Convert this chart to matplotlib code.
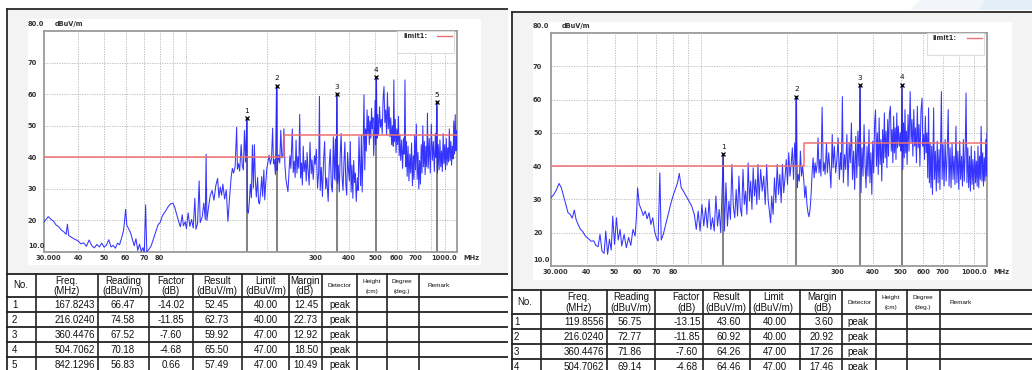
import matplotlib
matplotlib.use('Agg')
import matplotlib.pyplot as plt
from matplotlib.patches import Rectangle, Polygon

W, H = 1032, 370

# ---- scan 1 (left) : freq [MHz] / level [dBuV/m]
FREQ_A = [30, 30.5, 31.1, 31.8, 32.5, 33.2, 34, 34.8, 35.5, 36.2, 36.6, 37, 38, 39, 40,
          41, 42, 43, 44, 45, 46, 47, 48, 49, 50, 51, 52, 53, 54, 55, 56, 57, 58, 59, 60,
          60.6, 61.5, 62.5, 63.5, 64.5, 65.5, 66.5, 67.5, 68.5, 69.5, 70.3, 71.1, 71.8, 73,
          74.5, 76, 77.5, 79, 80.5, 82, 84, 86, 88, 89.7, 91, 92.5, 94, 95.5, 97, 98, 99.5,
          100.5, 102, 103.5, 105, 106.5, 108, 109, 110.5, 112, 113, 115, 116.5, 118, 118.8,
          119.6, 121, 123, 125, 127, 129, 131, 132.5, 134, 135.5, 137, 139, 141, 143, 145,
          147, 148.5, 150, 152, 154, 155, 156.5, 158, 160, 161.5, 163, 164.5, 166, 167.82,
          168.6, 170, 171.5, 173, 174.5, 176, 177.5, 179, 180.5, 182, 184, 185.5, 187, 189,
          190.5, 192, 194, 195.5, 197, 199, 201, 203, 205, 207, 209, 210.5, 212, 214, 216.02,
          217, 218.5, 220, 222, 224, 226, 228, 230, 232, 234, 236, 238, 240, 242, 244, 247,
          249, 251, 253, 255, 257, 259, 261, 263, 265, 267, 269, 271, 273, 276, 278, 280,
          282, 285, 287, 290, 292, 295, 298, 300, 303, 306, 309, 311, 313, 316, 319, 322,
          325, 328, 331, 335, 338, 341, 344, 347, 350, 353, 356, 358, 360.45, 362.5, 365,
          368, 371, 374, 377, 380, 383, 386, 389, 392, 395, 398, 401, 404, 407, 410, 413,
          416, 419, 422, 425, 429, 432, 435, 438, 441, 444, 447, 450, 454, 457, 460, 463,
          466, 469, 472, 475, 478, 481, 484, 487, 490, 493, 496, 499, 501, 504.71, 507, 510,
          514, 518, 522, 526, 530, 534, 538, 542, 546, 550, 554, 558, 562, 566, 570, 574,
          578, 582, 585, 588, 592, 596, 600, 604, 608, 612, 616, 620, 625, 630, 635, 639,
          643, 647, 651, 655, 660, 665, 670, 675, 680, 685, 690, 694, 698, 703, 708, 713,
          718, 723, 728, 733, 738, 743, 748, 753, 758, 763, 768, 773, 778, 783, 790, 797,
          804, 811, 818, 825, 832, 837, 842.13, 847, 853, 859, 865, 871, 877, 883, 889, 895,
          901, 907, 913, 919, 925, 931, 937, 943, 949, 955, 961, 967, 973, 979, 985, 991,
          996, 1000]
LEVEL_A = [19.5, 20.3, 21.2, 20.4, 19.8, 18.6, 18.0, 16.9, 16.4, 15.6, 18.8, 15.2, 14.6, 14.0, 13.6,
           12.6, 12.9, 11.8, 13.8, 12.0, 11.3, 12.4, 11.6, 12.8, 11.5, 12.2, 13.9, 11.6, 12.1, 11.2, 12.8, 12.3, 14.5, 17.0, 23.5,
           18.5, 17.4, 16.2, 14.1, 12.0, 14.2, 10.5, 12.5, 10.2, 11.4, 9.6, 24.9, 10.1, 10.8,
           11.9, 14.2, 16.5, 18.6, 19.4, 21.5, 22.8, 24.3, 25.3, 25.4, 24.2, 22.0, 19.8, 18.0, 21.8, 18.3, 19.6,
           17.4, 22.4, 18.1, 20.3, 17.6, 27.0, 17.2, 19.0, 32.5, 19.3, 21.2, 25.5, 20.3, 41.0,
           20.0, 23.5, 27.8, 29.5, 26.4, 31.0, 33.3, 27.2, 30.6, 28.0, 31.5, 26.8, 29.7, 19.7, 27.2,
           33.8, 36.5, 35.0, 37.0, 49.5, 36.2, 38.0, 35.6, 44.0, 37.4, 36.0, 48.5, 38.5, 52.45,
           23.0, 22.3, 26.0, 31.5, 27.2, 43.9, 30.2, 44.0, 32.8, 27.4, 33.6, 25.8, 25.2, 29.5,
           33.9, 27.6, 36.0, 26.5, 31.5, 36.5, 38.6, 40.7, 37.8, 39.5, 49.2, 38.0, 39.3, 34.5, 62.73,
           35.8, 38.5, 40.7, 38.2, 48.6, 39.8, 40.5, 49.0, 37.5, 33.0, 31.0, 29.1, 35.0, 40.5, 36.5, 49.0,
           35.2, 38.8, 33.6, 45.5, 35.0, 40.2, 36.5, 53.6, 33.4, 38.2, 31.2, 43.5, 35.4, 39.0, 32.4, 41.5,
           36.6, 31.2, 44.8, 34.8, 39.2, 33.0, 40.5, 37.8, 42.5, 30.2, 35.5, 59.3, 29.5, 36.8, 27.6, 38.6,
           45.0, 30.0, 33.5, 26.0, 37.5, 42.5, 31.0, 29.0, 46.5, 33.0, 45.8, 32.5, 59.92, 31.8, 37.5,
           29.0, 41.0, 47.5, 33.5, 29.5, 38.5, 44.8, 31.5, 28.0, 41.5, 36.0, 32.5, 45.0, 29.0, 37.5, 27.0,
           39.0, 32.0, 35.0, 26.0, 33.5, 29.5, 46.5, 37.5, 31.0, 47.0, 29.0, 40.0, 59.8, 36.0, 49.0, 42.0,
           55.0, 47.5, 53.0, 44.0, 51.5, 46.0, 55.5, 49.0, 52.5, 40.5, 48.0, 58.0, 44.0, 65.5, 46.0, 53.5,
           47.0, 56.0, 49.5, 52.0, 47.5, 58.5, 62.4, 51.0, 55.0, 47.0, 60.5, 49.0, 56.0, 46.5, 52.5, 44.0,
           50.0, 43.5, 64.5, 45.0, 52.0, 41.5, 49.0, 44.0, 53.0, 40.5, 47.0, 39.0, 45.5, 36.5, 46.0, 41.0,
           64.5, 37.0, 45.0, 34.0, 43.5, 32.5, 41.0, 35.0, 44.5, 31.0, 40.5, 33.0, 47.0, 36.0, 50.5, 33.0,
           41.5, 30.0, 39.0, 31.5, 44.0, 35.0, 50.0, 37.0, 45.0, 34.5, 43.5, 37.0, 54.0, 36.5, 46.0, 35.0,
           50.5, 39.0, 45.0, 35.5, 47.5, 40.0, 57.49, 35.0, 44.0, 36.0, 45.5, 37.0, 42.0, 35.5, 47.5, 38.0,
           44.0, 36.0, 46.0, 37.5, 43.0, 38.5, 49.0, 39.0, 45.0, 37.5, 43.5, 39.5, 51.5, 41.0, 53.5, 42.0,
           48.5, 46.5]

# ---- scan 2 (right)
FREQ_B = [30, 30.7, 31.3, 32, 32.6, 33.2, 33.8, 34.4, 35, 35.6, 36.2, 36.7, 37.3, 38, 38.7, 39.4,
          40, 40.8, 41.5, 42.3, 43, 43.8, 44.5, 45.2, 46, 46.6, 47.3, 48, 48.7, 49.3, 50, 50.8,
          51.5, 52.3, 53, 54, 55, 56, 57, 58, 59, 59.6, 60.2, 61, 62, 63, 64, 65, 66, 67, 68, 69,
          70, 71, 72, 72.8, 74, 75.5, 77, 78.5, 80, 81.5, 83, 84.2, 85.5, 87, 89, 91, 93, 95,
          96.5, 98, 99.5, 101, 102.5, 104, 105.5, 107, 108.5, 110, 111.5, 113, 114.5, 116, 117.5,
          119.86, 121, 122.5, 124, 125.5, 127, 128.5, 130, 131.5, 133, 134.5, 136, 137.5, 139,
          140.5, 142, 143.5, 145, 146.5, 148, 149.5, 151, 152.5, 154, 155.5, 157, 158.5, 160,
          162, 164, 166, 168, 170, 172, 174, 175.5, 177, 179, 181, 183, 185, 187, 189, 191, 193,
          195, 197, 199, 201, 203, 205, 207, 209, 211, 213, 215, 216.02, 217.5, 219, 221, 223,
          225, 227, 229, 231, 233, 235, 237, 239, 241, 243, 245, 247, 249, 251, 253, 255, 257,
          259, 261, 263, 265.5, 268, 270, 272, 275, 277, 280, 282, 285, 288, 290, 293, 296, 299,
          302, 305, 308, 310, 312.5, 315, 318, 321, 324, 327, 330, 333, 336, 339, 342, 345, 348,
          351, 354, 357, 360.45, 363, 366, 369, 372, 375, 378, 381, 384, 387, 390, 393, 396, 399,
          402, 405, 408, 411, 414, 417, 420, 423, 426, 429, 432, 435, 438, 441, 444, 447, 450,
          453, 456, 460, 463, 466, 469, 472, 475, 478, 481, 484, 487, 490, 494, 498, 501, 504.71,
          508, 511, 514, 517, 520, 523, 526, 530, 534, 539, 543, 547, 551, 555, 559, 563, 567,
          571, 575, 579, 583, 588, 593, 597, 601, 605, 609, 613, 617, 621, 625, 629, 633, 637,
          641, 645, 651, 655, 660, 665, 670, 675, 680, 685, 693, 697, 702, 708, 714, 720, 726,
          732, 737, 743, 749, 755, 761, 767, 773, 779, 785, 791, 797, 803, 809, 815, 821, 827,
          833, 839, 845, 851, 857, 863, 869, 875, 881, 887, 893, 899, 906, 912, 918, 924, 930,
          936, 942, 948, 954, 960, 966, 972, 978, 984, 990, 995, 1000]
LEVEL_B = [30.5, 31.5, 32.8, 34.8, 33.5, 31.0, 28.5, 26.0, 25.5, 24.4, 26.8, 24.0, 22.5, 21.0, 20.4, 19.2,
           18.6, 18.0, 17.4, 17.6, 16.2, 15.8, 19.5, 14.5, 13.8, 20.5, 13.5, 18.0, 14.8, 25.0, 16.5, 24.5,
           17.8, 21.0, 16.0, 19.5, 15.5, 18.6, 16.2, 21.0, 19.0, 24.5, 33.5, 28.5, 27.0, 25.2, 26.5, 24.2, 26.0, 22.5, 24.5, 20.5,
           18.5, 17.5, 38.0, 17.8, 19.5, 22.5, 25.5, 28.5, 31.0, 33.0, 35.0, 37.8, 33.5, 32.5, 31.0, 29.5, 28.0, 25.5,
           21.0, 26.5, 20.5, 28.5, 22.0, 27.5, 21.5, 30.0, 21.0, 24.5, 20.5, 31.0, 22.0, 27.0, 20.0,
           43.6, 20.5, 35.0, 22.0, 29.5, 24.0, 40.5, 28.0, 24.5, 33.0, 25.0, 37.0, 27.5, 25.0,
           39.0, 28.5, 32.5, 25.5, 41.0, 29.5, 35.5, 27.0, 39.5, 31.0, 36.0, 28.5, 40.5, 30.0,
           39.0, 32.5, 37.0, 28.5, 40.5, 30.0, 26.0, 23.0, 31.0, 25.5, 36.5, 29.0, 40.5, 31.5, 37.5, 29.0, 40.5,
           32.0, 36.5, 42.0, 34.5, 44.0, 37.0, 40.5, 45.5, 36.0, 47.0, 40.0, 60.92, 33.5, 37.5, 35.5, 44.5,
           37.0, 40.0, 36.0, 30.5, 34.0, 28.5, 26.0, 24.8, 27.0, 31.5, 38.0, 42.5, 36.5, 41.0, 38.0, 40.5, 48.5,
           38.0, 42.0, 37.0, 57.7, 38.5, 41.0, 37.5, 47.0, 38.0, 44.0, 40.0, 33.5, 49.5, 39.5, 46.0, 38.0, 42.0,
           48.5, 36.0, 44.0, 39.0, 60.9, 35.0, 43.5, 39.0, 49.5, 34.0, 47.0, 41.0, 53.0, 36.0, 44.5, 33.0, 49.0,
           36.5, 50.5, 40.0, 64.26, 32.0, 45.5, 37.0, 52.5, 40.5, 33.5, 46.0, 37.0, 51.0, 35.0, 44.0, 31.5, 47.5,
           38.0, 53.0, 56.9, 40.0, 50.0, 37.5, 54.5, 40.5, 48.0, 35.5, 51.0, 41.0, 56.0, 42.5, 50.5, 39.5, 54.0,
           43.0, 55.7, 58.0, 44.5, 51.0, 41.0, 55.0, 44.0, 51.5, 42.0, 56.0, 45.5, 52.0, 46.0, 50.0, 44.5, 64.46,
           39.0, 53.0, 42.5, 57.0, 44.0, 50.5, 40.5, 55.5, 44.5, 62.4, 47.0, 54.0, 43.0, 57.0, 46.0, 51.5, 41.0,
           58.0, 45.5, 52.5, 40.0, 56.5, 60.4, 46.0, 49.5, 42.0, 55.0, 44.0, 50.0, 36.5, 57.5, 35.0, 47.0, 33.5,
           46.0, 31.5, 57.5, 36.0, 44.5, 32.5, 47.5, 35.0, 45.0, 33.0, 62.4, 36.0, 46.5, 34.0, 48.0, 35.5, 44.0,
           57.0, 34.0, 45.5, 33.5, 47.0, 36.0, 43.0, 34.5, 52.0, 35.0, 44.5, 33.0, 47.5, 36.0, 43.0, 34.0, 48.0,
           35.5, 44.0, 62.0, 35.0, 45.5, 33.5, 43.0, 32.5, 46.0, 34.5, 42.0, 33.0, 44.5, 35.0, 41.5, 34.0, 46.0,
           33.5, 43.0, 36.0, 52.0, 35.5, 44.0, 34.0, 42.5, 35.5, 48.0, 37.0, 50.0]

LIMIT_FREQ = [30, 230, 230, 1000]
LIMIT_LEVEL = [40, 40, 47, 47]

# ---- marker table values
NO_A = [1, 2, 3, 4, 5]
MK_FREQ_A = [167.8243, 216.0240, 360.4476, 504.7062, 842.1296]
READ_A = [66.47, 74.58, 67.52, 70.18, 56.83]
FACT_A = [-14.02, -11.85, -7.60, -4.68, 0.66]
RES_A = [52.45, 62.73, 59.92, 65.50, 57.49]
LIM_A = [40.00, 40.00, 47.00, 47.00, 47.00]
MARG_A = [12.45, 22.73, 12.92, 18.50, 10.49]

NO_B = [1, 2, 3, 4]
MK_FREQ_B = [119.8556, 216.0240, 360.4476, 504.7062]
READ_B = [56.75, 72.77, 71.86, 69.14]
FACT_B = [-13.15, -11.85, -7.60, -4.68]
RES_B = [43.60, 60.92, 64.26, 64.46]
LIM_B = [40.00, 40.00, 47.00, 47.00]
MARG_B = [3.60, 20.92, 17.26, 17.46]

GRID_X = [40, 50, 60, 70, 80, 90, 100, 200, 300, 400, 500, 600, 700, 800, 900]
GRID_X_LBL = ['40', '50', '60', '70', '80', '', '', '', '300', '400', '500', '600', '700', '', '']
GRID_Y = [20, 30, 40, 50, 60, 70]

fig = plt.figure(figsize=(W / 100, H / 100), dpi=100)


def px_axes(x0, y0, x1, y1):
    return fig.add_axes([x0 / W, 1 - y1 / H, (x1 - x0) / W, (y1 - y0) / H])


# background: page, frames, chart panels
bg = px_axes(0, 0, W, H)
bg.set_xlim(0, W)
bg.set_ylim(H, 0)
bg.axis('off')
bg.add_patch(Polygon([(985, 0), (W, 0), (W, 10), (978, 10)], fc='#e4eef6', ec='none'))
bg.add_patch(Polygon([(920, 0), (985, 0), (978, 10), (910, 10)], fc='#f2f6fa', ec='none'))
for fx0, fy0, fx1 in [(6, 8.7, 508), (511, 11.7, W)]:
    bg.add_patch(Rectangle((fx0, fy0), fx1 - fx0, H, fc='#f3f3f3', ec='none'))
    bg.plot([fx0, fx1], [fy0, fy0], color='#2a2a2a', lw=1.3, solid_capstyle='butt')
    bg.plot([fx0 + 0.5, fx0 + 0.5], [fy0, H], color='#2a2a2a', lw=1.3)
bg.add_patch(Rectangle((28, 19), 453, 246, fc='white', ec='none'))
bg.add_patch(Rectangle((533, 22), 479, 258, fc='white', ec='none'))
bg.add_patch(Rectangle((7, 274), 501, 100, fc='white', ec='none'))
bg.add_patch(Rectangle((512, 290), 520, 90, fc='white', ec='none'))

LBL = dict(fontsize=4.8, fontweight='bold', color='#333333', family='DejaVu Sans')


def draw_chart(box, freq, level, mk_freq, mk_level):
    x0, y0, x1, y1 = box
    wpx, hpx = x1 - x0, y1 - y0
    ax = px_axes(*box)
    ax.set_xscale('log')
    ax.set_xlim(30, 1000)
    ax.set_ylim(10, 80)
    ax.minorticks_off()
    ax.set_xticks(GRID_X, GRID_X_LBL)
    ax.set_yticks(GRID_Y, [str(v) for v in GRID_Y])
    ax.grid(True, color='#b4b4b4', ls=(0, (1.5, 1.5)), lw=0.6)
    ax.set_axisbelow(True)
    lpad = (x0 - (533 if x0 > 500 else 28)) * 0.72
    ax.tick_params(axis='y', length=0, pad=lpad)
    ax.tick_params(axis='x', length=0, pad=2.2)
    for t in ax.get_xticklabels() + ax.get_yticklabels():
        t.set(**LBL)
    for t in ax.get_yticklabels():
        t.set_horizontalalignment('left')
    for s in ax.spines.values():
        s.set_color('#9a9a9a')
        s.set_linewidth(1.3)

    left = -lpad / 0.72 / wpx
    ax.text(left, 1 + 7 / hpx, '80.0', ha='left', va='center', transform=ax.transAxes, **LBL)
    ax.text(11 / wpx, 1 + 7 / hpx, 'dBuV/m', ha='left', va='center', transform=ax.transAxes, **LBL)
    ax.text(left, 6 / hpx, '10.0', ha='left', va='center', transform=ax.transAxes, **LBL)
    ax.text(4 / wpx, -6 / hpx, '30.000', ha='center', va='center', transform=ax.transAxes, **LBL)
    ax.text(1.0, -6 / hpx, '1000.0', ha='right', va='center', transform=ax.transAxes, **LBL)
    ax.text(1 + 6 / wpx, -6 / hpx, 'MHz', ha='left', va='center', transform=ax.transAxes, **LBL)

    # marker stems, trace, limit
    ax.vlines(mk_freq, 10, mk_level, color='#7a7a7a', lw=1.3, zorder=2)
    ax.plot(freq, level, color='#1f1fff', lw=0.75, alpha=0.9, zorder=3)
    ax.plot(LIMIT_FREQ, LIMIT_LEVEL, color='#ee7070', lw=1.1, zorder=4)
    ax.plot(mk_freq, mk_level, 'x', color='black', ms=3.5, mew=0.9, zorder=5)
    for i, (f, v) in enumerate(zip(mk_freq, mk_level), start=1):
        ax.text(f, v + 2.3, str(i), ha='center', va='center', fontsize=5.3, color='#111111', zorder=5)

    # legend box
    ax.add_patch(Rectangle((1 - 60 / wpx, 1 - 22 / hpx), 57 / wpx, 22 / hpx,
                           transform=ax.transAxes, fc='white', ec='#dddddd', lw=0.8, zorder=6))
    ax.text(1 - 54 / wpx, 1 - 5.5 / hpx, 'limit1:', ha='left', va='center',
            transform=ax.transAxes, zorder=7, **LBL)
    ax.plot([1 - 20 / wpx, 1 - 5 / wpx], [1 - 5 / hpx, 1 - 5 / hpx], color='#ee7070', lw=1.0,
            transform=ax.transAxes, zorder=7)
    return ax


draw_chart((44, 31, 457, 252), FREQ_A, LEVEL_A, MK_FREQ_A, RES_A)
draw_chart((551, 33, 987, 266), FREQ_B, LEVEL_B, MK_FREQ_B, RES_B)

# ---- result tables
TXT = dict(family='Liberation Sans', color='#111111')


def draw_table(col_x, row_y, x_end, hdr_pos, data_pos, rows):
    for y in row_y:
        bg.plot([col_x[0], x_end], [y, y], color='#222222', lw=1.3, solid_capstyle='butt')
    for x in col_x[1:]:
        bg.plot([x, x], [row_y[0], H + 5], color='#222222', lw=1.2)
    top, bot = row_y[0], row_y[1]
    mid = (top + bot) / 2
    l1, l2 = top + (bot - top) * 0.31, top + (bot - top) * 0.74
    heads = [('No.', None), ('Freq.', '(MHz)'), ('Reading', '(dBuV/m)'), ('Factor', '(dB)'),
             ('Result', '(dBuV/m)'), ('Limit', '(dBuV/m)'), ('Margin', '(dB)')]
    for (a, b), x in zip(heads, hdr_pos[:7]):
        if b is None:
            bg.text(x, mid, a, ha='center', va='center', fontsize=7, **TXT)
        else:
            bg.text(x, l1, a, ha='center', va='center', fontsize=7, **TXT)
            bg.text(x, l2, b, ha='center', va='center', fontsize=7, **TXT)
    bg.text(hdr_pos[7], mid, 'Detector', ha='center', va='center', fontsize=4.6, **TXT)
    bg.text(hdr_pos[8], l1, 'Height', ha='center', va='center', fontsize=4.6, **TXT)
    bg.text(hdr_pos[8], l2, '(cm)', ha='center', va='center', fontsize=4.6, **TXT)
    bg.text(hdr_pos[9], l1, 'Degree', ha='center', va='center', fontsize=4.6, **TXT)
    bg.text(hdr_pos[9], l2, '(deg.)', ha='center', va='center', fontsize=4.6, **TXT)
    bg.text(hdr_pos[10], mid, 'Remark', ha='left', va='center', fontsize=4.6, **TXT)

    has = ['left', 'right', 'center', 'center', 'center', 'center', 'right', 'center']
    for r, vals in enumerate(rows):
        yc = (row_y[r + 1] + row_y[r + 2]) / 2 + 0.5
        for x, ha, s in zip(data_pos, has, vals):
            bg.text(x, yc, s, ha=ha, va='center', fontsize=7, **TXT)


def fmt_rows(no, fr, rd, fc, rs, lm, mg):
    return [[str(a), f'{b:.4f}', f'{c:.2f}', f'{d:.2f}', f'{e:.2f}', f'{g:.2f}', f'{h:.2f}', 'peak']
            for a, b, c, d, e, g, h in zip(no, fr, rd, fc, rs, lm, mg)]


draw_table([6, 36, 97.7, 149, 193, 242, 289, 322, 357, 387, 419],
           [274, 297, 312, 327, 342, 357, 372], 508,
           [20.5, 67, 123, 171, 217, 266, 305, 339, 372, 402, 428],
           [12, 95, 123, 171, 217, 266, 318, 340],
           fmt_rows(NO_A, MK_FREQ_A, READ_A, FACT_A, RES_A, LIM_A, MARG_A))

draw_table([511, 541, 607, 655, 703, 750, 800, 842, 876, 907, 940],
           [290, 314, 329, 344, 359, 374, 389], W,
           [525, 579, 631, 686, 726, 773, 822, 859, 891, 923, 950],
           [514, 604, 630, 687, 729, 775, 834, 858],
           fmt_rows(NO_B, MK_FREQ_B, READ_B, FACT_B, RES_B, LIM_B, MARG_B))

fig.savefig('out.png', dpi=100)
